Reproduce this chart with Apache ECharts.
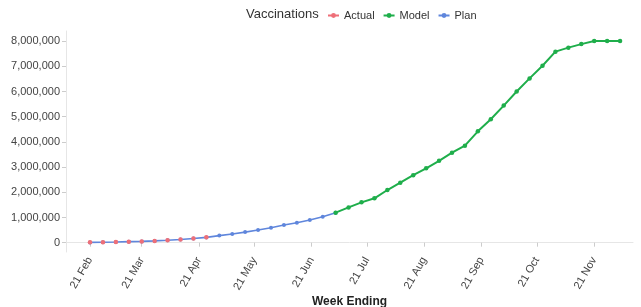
<!DOCTYPE html>
<html>
<head>
<meta charset="utf-8">
<script src="https://cdn.jsdelivr.net/npm/echarts@6/dist/echarts.min.js"></script>
<style>
  html, body { margin: 0; padding: 0; background: #fff; }
  #chart { width: 641px; height: 307px; }
</style>
</head>
<body>
<div id="chart"></div>
<script>
// week ending dates (Sundays), weekly from 21 Feb 2021
const weekCount = 42

// vaccinations, cumulative
const actual = [15000, 15000, 30000, 40000, 45000, 70000, 100000, 125000, 170000, 215000]
const plan = [10000, 15000, 25000, 40000, 50000, 70000, 95000, 125000, 165000, 210000,
	280000, 345000, 420000, 500000, 595000, 700000, 790000, 900000, 1030000, 1190000]
const modelStart = 19
const model = [1190000, 1400000, 1600000, 1760000, 2090000, 2380000, 2680000, 2950000,
	3250000, 3570000, 3850000, 4420000, 4900000, 5440000, 6000000, 6520000, 7020000,
	7580000, 7740000, 7880000, 8000000, 8000000, 8000000]

const yTicks = [0, 1000000, 2000000, 3000000, 4000000, 5000000, 6000000, 7000000, 8000000]
const xTicks = ['2021-02-21', '2021-03-21', '2021-04-21', '2021-05-21', '2021-06-21',
	'2021-07-21', '2021-08-21', '2021-09-21', '2021-10-21', '2021-11-21']
const months = ['Jan', 'Feb', 'Mar', 'Apr', 'May', 'Jun', 'Jul', 'Aug', 'Sep', 'Oct', 'Nov', 'Dec']

const DAY = 24 * 3600 * 1000
const t0 = Date.UTC(2021, 1, 21)
const weeks = []
for (let i = 0; i < weekCount; i++) weeks.push(t0 + i * 7 * DAY)
const ts = s => { const p = s.split('-'); return Date.UTC(+p[0], +p[1] - 1, +p[2]) }
const xTickValues = xTicks.map(ts)

const colors = { actual: '#ee6f78', model: '#1fae4b', plan: '#5f86dc' }

const chart = echarts.init(document.getElementById('chart'))
chart.setOption({
	animation: false,
	textStyle: { fontFamily: 'Liberation Sans, Arial, sans-serif' },
	title: {
		text: 'Vaccinations',
		left: 241,
		top: 3,
		textStyle: { fontSize: 13, fontWeight: 'normal', color: '#333' }
	},
	legend: {
		left: 322,
		top: 5,
		itemWidth: 11,
		itemHeight: 6,
		itemGap: 8,
		textStyle: { fontSize: 11, color: '#333' },
		data: [
			{ name: 'Actual', lineStyle: { opacity: 1, color: colors.actual } },
			{ name: 'Model' },
			{ name: 'Plan' }
		]
	},
	grid: { left: 66, right: 8, top: 31, bottom: 55, outerBoundsMode: 'none' },
	xAxis: {
		type: 'value',
		min: Date.UTC(2021, 1, 8),
		max: Date.UTC(2021, 11, 12),
		name: 'Week Ending',
		nameLocation: 'middle',
		nameGap: 44,
		nameMoveOverlap: false,
		nameTextStyle: { fontSize: 12, fontWeight: 'bold', color: '#222' },
		axisLine: { lineStyle: { color: '#e6e6e6' } },
		axisTick: { show: true, length: 4, lineStyle: { color: '#ccc' }, customValues: xTickValues },
		splitLine: { show: false },
		axisLabel: {
			customValues: xTickValues,
			rotate: 60,
			fontSize: 11,
			color: '#444',
			margin: 6,
			formatter: v => { const d = new Date(v); return d.getUTCDate() + ' ' + months[d.getUTCMonth()] }
		}
	},
	yAxis: {
		type: 'value',
		min: -370000,
		max: 8400000,
		axisLine: { show: true, lineStyle: { color: '#e6e6e6' } },
		axisTick: { show: true, length: 4, lineStyle: { color: '#ccc' }, customValues: yTicks },
		splitLine: { show: false },
		axisLabel: {
			customValues: yTicks,
			fontSize: 11,
			color: '#444',
			margin: 6,
			formatter: v => v.toLocaleString('en-US')
		}
	},
	series: [
		{
			name: 'Plan',
			type: 'line',
			z: 2,
			color: colors.plan,
			symbol: 'circle',
			symbolSize: 4,
			lineStyle: { width: 1.6 },
			data: plan.map((v, i) => [weeks[i], v])
		},
		{
			name: 'Actual',
			type: 'line',
			z: 3,
			color: colors.actual,
			symbol: 'circle',
			symbolSize: 4.5,
			lineStyle: { width: 1.6, opacity: 0 },
			data: actual.map((v, i) => [weeks[i], v])
		},
		{
			name: 'Model',
			type: 'line',
			z: 4,
			color: colors.model,
			symbol: 'circle',
			symbolSize: 4.5,
			lineStyle: { width: 2 },
			data: model.map((v, i) => [weeks[modelStart + i], v])
		}
	]
})
</script>
</body>
</html>
